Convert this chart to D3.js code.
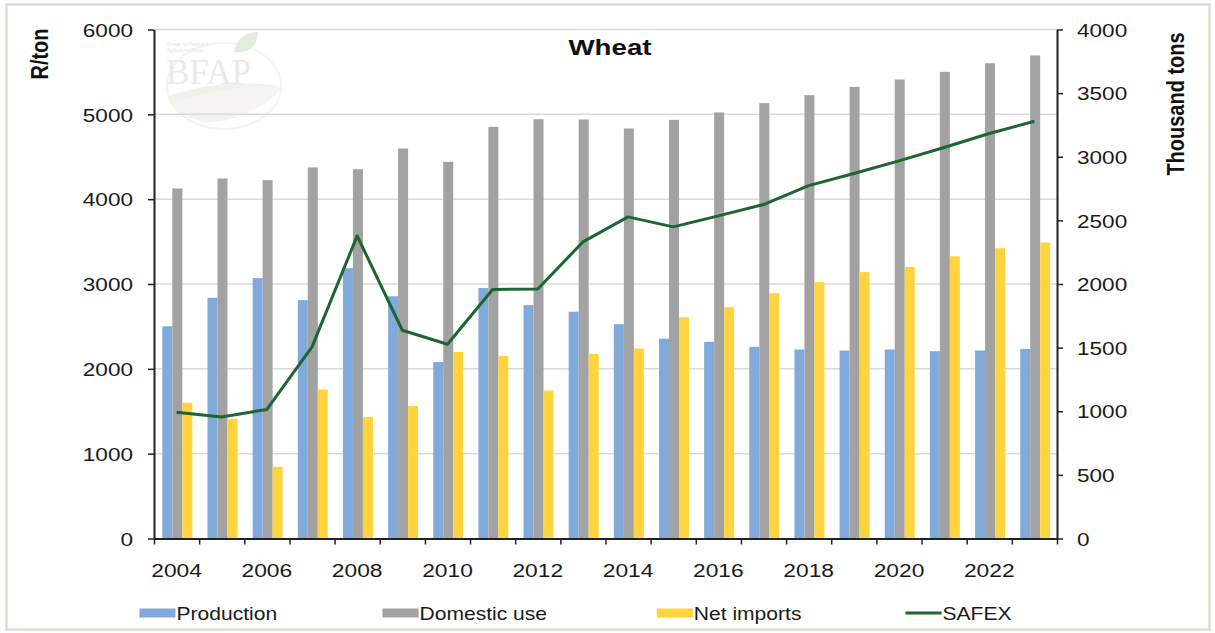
<!DOCTYPE html>
<html>
<head>
<meta charset="utf-8">
<script src="https://cdn.jsdelivr.net/npm/d3@7"></script>
<style>
	body { margin: 0; background: #fff; }
	svg { display: block; font-family: "Liberation Sans", Arial, sans-serif; }
</style>
</head>
<body>
<svg id="chart" width="1215" height="633"></svg>
<script>
// values
var years = [2004, 2005, 2006, 2007, 2008, 2009, 2010, 2011, 2012, 2013,
	2014, 2015, 2016, 2017, 2018, 2019, 2020, 2021, 2022, 2023];

var production = [1668, 1891, 2046, 1873, 2124, 1904, 1386, 1969, 1834, 1782,
	1684, 1570, 1545, 1506, 1485, 1477, 1485, 1472, 1477, 1490];
var domesticUse = [2751, 2829, 2816, 2916, 2902, 3065, 2960, 3235, 3295, 3293,
	3222, 3290, 3348, 3421, 3484, 3549, 3607, 3667, 3735, 3796];
var netImports = [1066, 940, 563, 1171, 956, 1042, 1466, 1435, 1163, 1451,
	1493, 1739, 1818, 1928, 2014, 2093, 2134, 2218, 2281, 2326];
var safex = [1489, 1433, 1521, 2259, 3567, 2455, 2290, 2935, 2942, 3496,
	3791, 3673, 3803, 3937, 4160, 4303, 4451, 4609, 4774, 4919];

var xTickLabels = ['2004', '2006', '2008', '2010', '2012', '2014', '2016', '2018', '2020', '2022'];
var leftTicks = [0, 1000, 2000, 3000, 4000, 5000, 6000];
var rightTicks = [0, 500, 1000, 1500, 2000, 2500, 3000, 3500, 4000];

var barSeries = [
	{name: 'Production', values: production, color: '#80aadc'},
	{name: 'Domestic use', values: domesticUse, color: '#a2a2a2'},
	{name: 'Net imports', values: netImports, color: '#ffd43e'}
];
var lineColor = '#1d6531';

var plot = {left: 154, right: 1057, top: 29.5, bottom: 538.5};

var svg = d3.select('#chart');

var x = d3.scaleBand()
	.domain(years)
	.range([plot.left, plot.right]);

var xEdge = d3.scaleLinear()
	.domain([0, years.length])
	.range([plot.left, plot.right]);

var xSeries = d3.scaleBand()
	.domain(barSeries.map(function (s) { return s.name; }))
	.range([0, x.bandwidth()])
	.paddingOuter(0.76)
	.align(0.55);

var yLeft = d3.scaleLinear()
	.domain([0, 6000])
	.range([plot.bottom, plot.top]);

var yRight = d3.scaleLinear()
	.domain([0, 4000])
	.range([plot.bottom, plot.top]);

// outer frame
svg.append('rect')
	.attr('x', 6.5)
	.attr('y', 4.5)
	.attr('width', 1203)
	.attr('height', 625)
	.attr('fill', 'none')
	.attr('stroke', '#d5e3d0')
	.attr('stroke-width', 2.5);

drawWatermark();

// gridlines
svg.append('g')
	.selectAll('line')
	.data(leftTicks.slice(1))
	.enter()
	.append('line')
	.attr('x1', plot.left)
	.attr('x2', plot.right)
	.attr('y1', function (d) { return yLeft(d); })
	.attr('y2', function (d) { return yLeft(d); })
	.attr('stroke', '#dadada')
	.attr('stroke-width', 1.5);

// bars
barSeries.forEach(function (s) {
	svg.append('g')
		.selectAll('rect')
		.data(s.values)
		.enter()
		.append('rect')
		.attr('x', function (d, i) { return x(years[i]) + xSeries(s.name); })
		.attr('y', function (d) { return yRight(d); })
		.attr('width', xSeries.bandwidth())
		.attr('height', function (d) { return yRight(0) - yRight(d); })
		.attr('fill', s.color);
});

// SAFEX line
var line = d3.line()
	.x(function (d, i) { return x(years[i]) + x.bandwidth() / 2; })
	.y(function (d) { return yLeft(d); });

svg.append('path')
	.datum(safex)
	.attr('d', line)
	.attr('fill', 'none')
	.attr('stroke', lineColor)
	.attr('stroke-width', 3)
	.attr('stroke-linejoin', 'round');

// axes
function styleAxis (g) {
	g.select('.domain')
		.attr('stroke', '#222')
		.attr('stroke-width', 2);
	g.selectAll('.tick line')
		.attr('stroke', '#222')
		.attr('stroke-width', 1.5);
}

var plainNumber = d3.format('d');

var leftAxis = svg.append('g')
	.attr('transform', 'translate(' + plot.left + ',0)')
	.call(d3.axisLeft(yLeft).tickValues(leftTicks).tickFormat(plainNumber).tickSize(6).tickSizeOuter(0));
styleAxis(leftAxis);
leftAxis.selectAll('.tick text')
	.attr('x', 0)
	.attr('dy', '0.36em')
	.attr('transform', 'translate(-21,0) scale(1.22,1)')
	.attr('font-size', 18.5)
	.attr('font-family', null)
	.attr('fill', '#1a1a1a');

var rightAxis = svg.append('g')
	.attr('transform', 'translate(' + plot.right + ',0)')
	.call(d3.axisRight(yRight).tickValues(rightTicks).tickFormat(plainNumber).tickSize(6).tickSizeOuter(0));
styleAxis(rightAxis);
rightAxis.selectAll('.tick text')
	.attr('x', 0)
	.attr('dy', '0.36em')
	.attr('transform', 'translate(20,0) scale(1.22,1)')
	.attr('font-size', 18.5)
	.attr('font-family', null)
	.attr('fill', '#1a1a1a');

var bottomAxis = svg.append('g')
	.attr('transform', 'translate(0,' + plot.bottom + ')')
	.call(d3.axisBottom(xEdge).tickValues(d3.range(years.length + 1)).tickSize(6).tickSizeOuter(0).tickFormat(''));
styleAxis(bottomAxis);

svg.append('g')
	.selectAll('text')
	.data(xTickLabels)
	.enter()
	.append('text')
	.attr('transform', function (d) {
		return 'translate(' + (x(+d) + x.bandwidth() / 2) + ',577) scale(1.2,1)';
	})
	.attr('text-anchor', 'middle')
	.attr('font-size', 19)
	.attr('fill', '#1a1a1a')
	.text(function (d) { return d; });

// titles
svg.append('text')
	.attr('transform', 'translate(610,55) scale(1.23,1)')
	.attr('text-anchor', 'middle')
	.attr('font-size', 22.5)
	.attr('font-weight', 'bold')
	.attr('fill', '#111')
	.text('Wheat');

svg.append('text')
	.attr('transform', 'translate(48,54) scale(1.2,1) rotate(-90)')
	.attr('text-anchor', 'middle')
	.attr('font-size', 20)
	.attr('font-weight', 'bold')
	.attr('fill', '#111')
	.text('R/ton');

svg.append('text')
	.attr('transform', 'translate(1184,104) scale(1.2,1) rotate(-90)')
	.attr('text-anchor', 'middle')
	.attr('font-size', 20)
	.attr('font-weight', 'bold')
	.attr('fill', '#111')
	.text('Thousand tons');

// legend
var legendX = [139.5, 382.5, 656.8, 905.5];
var legendItems = barSeries.map(function (s) {
	return {name: s.name, color: s.color, type: 'bar'};
}).concat([{name: 'SAFEX', color: lineColor, type: 'line'}]);

var legend = svg.append('g')
	.selectAll('g')
	.data(legendItems)
	.enter()
	.append('g')
	.attr('transform', function (d, i) { return 'translate(' + legendX[i] + ',613)'; });

legend.filter(function (d) { return d.type === 'bar'; })
	.append('rect')
	.attr('x', 0)
	.attr('y', -4.5)
	.attr('width', 36)
	.attr('height', 9)
	.attr('fill', function (d) { return d.color; });

legend.filter(function (d) { return d.type === 'line'; })
	.append('line')
	.attr('x1', 0)
	.attr('x2', 36)
	.attr('stroke', function (d) { return d.color; })
	.attr('stroke-width', 3);

legend.append('text')
	.attr('transform', 'translate(37,6.5) scale(1.17,1)')
	.attr('font-size', 18)
	.attr('fill', '#1a1a1a')
	.text(function (d) { return d.name; });

// faint BFAP logo behind the plot
function drawWatermark () {
	var g = svg.append('g')
		.attr('opacity', 0.5);

	g.append('ellipse')
		.attr('cx', 224)
		.attr('cy', 86)
		.attr('rx', 57)
		.attr('ry', 43)
		.attr('fill', 'none')
		.attr('stroke', '#e4eedf')
		.attr('stroke-width', 2);

	g.append('path')
		.attr('d', 'M168,98 C200,82 250,80 282,88 C262,110 230,124 204,122 C186,118 174,110 168,98 Z')
		.attr('fill', '#efeae5');

	g.append('path')
		.attr('d', 'M168,96 C200,86 240,80 282,86 C240,86 200,92 170,104 Z')
		.attr('fill', '#dde9d6');

	g.append('path')
		.attr('d', 'M234,52 C236,38 248,32 258,32 C258,44 250,54 234,52 Z')
		.attr('fill', '#c9dcbf');

	g.append('text')
		.attr('x', 166)
		.attr('y', 84)
		.attr('font-family', '"Liberation Serif", "DejaVu Serif", serif')
		.attr('font-size', 35)
		.attr('fill', '#d6d6d6')
		.text('BFAP');

	g.append('text')
		.attr('x', 167)
		.attr('y', 46)
		.attr('font-size', 4.5)
		.attr('fill', '#c8c8c8')
		.text('Bureau for Food and');

	g.append('text')
		.attr('x', 167)
		.attr('y', 52)
		.attr('font-size', 4.5)
		.attr('fill', '#c8c8c8')
		.text('Agricultural Policy');
}
</script>
</body>
</html>
